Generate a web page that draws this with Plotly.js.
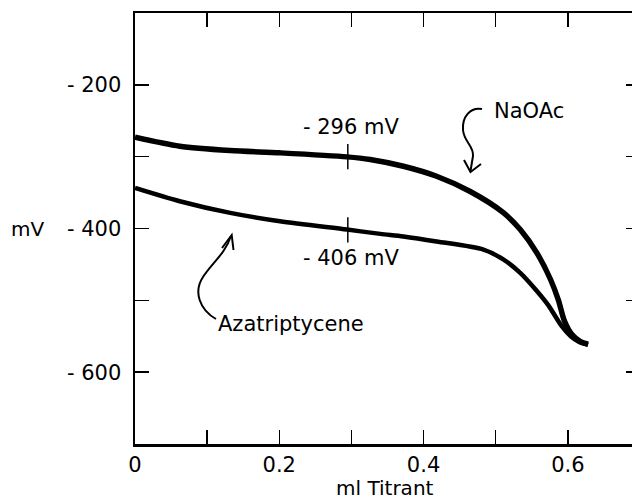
<!DOCTYPE html>
<html>
<head>
<meta charset="utf-8">
<script src="https://cdn.plot.ly/plotly-3.0.1.min.js"></script>
<style>
html,body{margin:0;padding:0;overflow:hidden;background:#fff;}
#chart{width:650px;height:502px;}
</style>
</head>
<body>
<div id="chart"></div>
<script>
// Data (ml titrant vs mV)
const naoacX = [0, 0.062, 0.132, 0.201, 0.294, 0.326, 0.372, 0.418, 0.464, 0.511, 0.534, 0.557, 0.576, 0.587, 0.595, 0.606, 0.617, 0.628];
const naoacY = [-273, -285.5, -291.5, -294.7, -300.3, -304, -313.4, -327.3, -348.2, -378.3, -401.5, -434, -471, -500, -528, -548, -557, -561];
const azaX = [0, 0.062, 0.132, 0.201, 0.294, 0.340, 0.372, 0.418, 0.483, 0.511, 0.534, 0.557, 0.573, 0.5915, 0.604, 0.615, 0.628];
const azaY = [-343.5, -362, -378.3, -390, -401.5, -407.5, -411, -418, -429.4, -443.3, -461.8, -487, -507, -536, -550, -557.5, -562];
const halfX = [0.295, 0.295];
const halfY = [-300, -402];
const xTickVals = [0, 0.1, 0.2, 0.3, 0.4, 0.5, 0.6, 0.7];
const xTickText = ["0", "", "0.2", "", "0.4", "", "0.6", ""];
const yTickVals = [-700, -600, -500, -400, -300, -200, -100];
const yTickText = ["", "- 600", "", "- 400", "", "- 200", ""];

const FONT = "DejaVu Sans, sans-serif";
// pixel -> data helpers for the hand-drawn annotation arrows and labels
const L = 135, T = 13, PW = 505, PH = 431;
const fx = p => (p - L) * 0.7 / PW;
const fy = p => -100 - (p - T) * 600 / PH;
const px = p => (p - L) / PW;
const py = p => (T + PH - p) / PH;
function P(cmds) {
  return cmds.map(c => {
    const op = c[0]; const nums = c.slice(1); const parts = [];
    for (let i = 0; i < nums.length; i += 2) parts.push(fx(nums[i]) + ',' + fy(nums[i + 1]));
    return op + parts.join(' ');
  }).join(' ');
}

const traces = [
  {x: naoacX, y: naoacY, mode: 'lines', line: {color: '#000', width: 5.5, shape: 'spline', smoothing: 0.8}, hoverinfo: 'skip'},
  {x: azaX, y: azaY, mode: 'lines', line: {color: '#000', width: 4.5, shape: 'spline', smoothing: 0.8}, hoverinfo: 'skip'},
  {x: halfX, y: halfY, mode: 'markers', marker: {symbol: 'line-ns', size: 18, color: '#000', line: {color: '#000', width: 1.5}}, hoverinfo: 'skip'}
];

const shapeLine = {color: '#000', width: 2};
const layout = {
  width: 650, height: 502,
  margin: {l: L, r: 650 - L - PW, t: T, b: 502 - T - PH},
  paper_bgcolor: '#fff', plot_bgcolor: '#fff',
  showlegend: false,
  font: {family: FONT, size: 21, color: '#000'},
  xaxis: {
    range: [0, 0.7], tickvals: xTickVals, ticktext: xTickText,
    ticks: 'inside', ticklen: 14, tickwidth: 1.5, tickcolor: '#000',
    showline: true, linewidth: 2.5, linecolor: '#000', mirror: 'ticks',
    showgrid: false, zeroline: false, ticklabelstandoff: 0,
    tickfont: {family: FONT, size: 21, color: '#000'}
  },
  yaxis: {
    range: [-700, -100], tickvals: yTickVals, ticktext: yTickText,
    ticks: 'inside', ticklen: 14, tickwidth: 1.5, tickcolor: '#000',
    showline: true, linewidth: 2.5, linecolor: '#000', mirror: 'ticks',
    showgrid: false, zeroline: false, ticklabelstandoff: 7,
    tickfont: {family: FONT, size: 21, color: '#000'}
  },
  annotations: [
    {text: 'ml Titrant', xref: 'paper', yref: 'paper', x: px(385), y: py(488), xanchor: 'center', yanchor: 'middle', showarrow: false, font: {family: FONT, size: 20, color: '#000'}},
    {text: 'mV', xref: 'paper', yref: 'paper', x: px(27), y: py(229), xanchor: 'center', yanchor: 'middle', showarrow: false, font: {family: FONT, size: 20, color: '#000'}},
    {text: '- 296 mV', xref: 'x', yref: 'y', x: fx(351), y: fy(127), xanchor: 'center', yanchor: 'middle', showarrow: false},
    {text: '- 406 mV', xref: 'x', yref: 'y', x: fx(351), y: fy(258), xanchor: 'center', yanchor: 'middle', showarrow: false},
    {text: 'NaOAc', xref: 'x', yref: 'y', x: fx(529), y: fy(111), xanchor: 'center', yanchor: 'middle', showarrow: false},
    {text: 'Azatriptycene', xref: 'x', yref: 'y', x: fx(291), y: fy(324), xanchor: 'center', yanchor: 'middle', showarrow: false}
  ],
  shapes: [
    {type: 'path', xref: 'x', yref: 'y', line: shapeLine,
     path: P([['M', 482, 109], ['C', 470, 107, 462, 117, 463, 130], ['C', 464, 142, 474, 146, 473, 156], ['L', 470.5, 171]])},
    {type: 'path', xref: 'x', yref: 'y', line: shapeLine,
     path: P([['M', 464, 160], ['L', 470.5, 172], ['L', 481, 164]])},
    {type: 'path', xref: 'x', yref: 'y', line: shapeLine,
     path: P([['M', 216, 319], ['C', 200, 310, 193, 292, 203, 277], ['C', 212, 263, 225, 254, 231, 236]])},
    {type: 'path', xref: 'x', yref: 'y', line: shapeLine,
     path: P([['M', 222, 248], ['L', 231.7, 235], ['L', 233.5, 250]])}
  ]
};

Plotly.newPlot('chart', traces, layout, {displayModeBar: false, staticPlot: true});
</script>
</body>
</html>
